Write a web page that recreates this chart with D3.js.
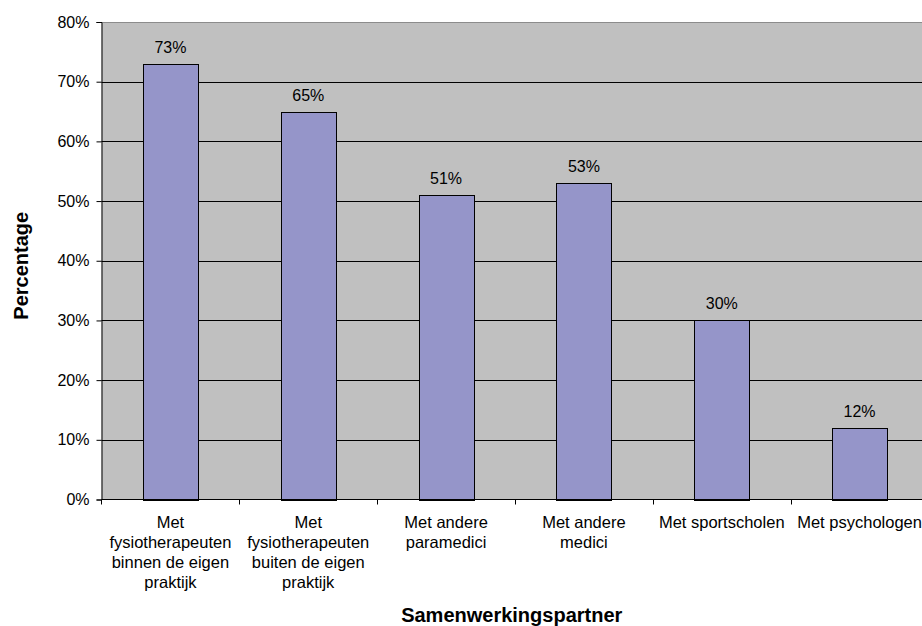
<!DOCTYPE html>
<html>
<head>
<meta charset="utf-8">
<script src="https://cdn.jsdelivr.net/npm/d3@7"></script>
<style>
  html, body { margin: 0; padding: 0; background: #fff; }
  svg { display: block; font-family: "Liberation Sans", Arial, sans-serif; }
</style>
</head>
<body>
<svg id="chart" width="922" height="626"></svg>
<script>
// Samenwerkingspartners: share of respondents per partner type
const categories = [
  "Met fysiotherapeuten binnen de eigen praktijk",
  "Met fysiotherapeuten buiten de eigen praktijk",
  "Met andere paramedici",
  "Met andere medici",
  "Met sportscholen",
  "Met psychologen"
];
// Wrapped axis labels, one array of lines per category
const categoryLines = [
  ["Met", "fysiotherapeuten", "binnen de eigen", "praktijk"],
  ["Met", "fysiotherapeuten", "buiten de eigen", "praktijk"],
  ["Met andere", "paramedici"],
  ["Met andere", "medici"],
  ["Met sportscholen"],
  ["Met psychologen"]
];
const values = [73, 65, 51, 53, 30, 12];
const yTicks = [0, 10, 20, 30, 40, 50, 60, 70, 80];
const yTitle = "Percentage";
const xTitle = "Samenwerkingspartner";

const svg = d3.select("#chart");
const plot = { left: 101.5, right: 928.5, top: 22, bottom: 499.5 };
const fontSize = 16;
const catFontSize = 16.5;

const x = d3.scaleBand()
  .domain(categories)
  .range([plot.left, plot.right])
  .paddingInner(0.6)
  .paddingOuter(0.3);
const step = x.step();

const y = d3.scaleLinear()
  .domain([0, 80])
  .range([plot.bottom, plot.top]);

// plot background
svg.append("rect")
  .attr("x", plot.left).attr("y", plot.top)
  .attr("width", plot.right - plot.left)
  .attr("height", plot.bottom - plot.top)
  .attr("fill", "#c0c0c0");

// top border of the plot area
svg.append("line")
  .attr("x1", plot.left).attr("x2", plot.right)
  .attr("y1", plot.top + 0.5).attr("y2", plot.top + 0.5)
  .attr("stroke", "#8c8c8c").attr("stroke-width", 1);

// horizontal gridlines
svg.append("g")
  .selectAll("line")
  .data(yTicks.filter(t => t > 0 && t < 80))
  .join("line")
  .attr("x1", plot.left).attr("x2", plot.right)
  .attr("y1", d => Math.round(y(d)) + 0.5)
  .attr("y2", d => Math.round(y(d)) + 0.5)
  .attr("stroke", "#000").attr("stroke-width", 1);

// bars
svg.append("g")
  .selectAll("rect")
  .data(values)
  .join("rect")
  .attr("x", (d, i) => Math.round(x(categories[i])) + 0.5)
  .attr("y", d => Math.round(y(d)) + 0.5)
  .attr("width", Math.round(x.bandwidth()))
  .attr("height", d => Math.round(y(0)) - Math.round(y(d)))
  .attr("fill", "#9595c9")
  .attr("stroke", "#000")
  .attr("stroke-width", 1);

// value labels
svg.append("g")
  .selectAll("text")
  .data(values)
  .join("text")
  .attr("x", (d, i) => x(categories[i]) + x.bandwidth() / 2)
  .attr("y", d => y(d) - 11)
  .attr("text-anchor", "middle")
  .attr("font-size", fontSize)
  .attr("fill", "#000")
  .text(d => d + "%");

// y axis
const yAxis = d3.axisLeft(y)
  .tickValues(yTicks)
  .tickSize(5)
  .tickPadding(7)
  .tickFormat(d => d + "%");
const gy = svg.append("g")
  .attr("transform", `translate(${plot.left},0)`)
  .call(yAxis);
gy.select(".domain").attr("stroke", "#000");
gy.selectAll(".tick line").attr("stroke", "#000");
gy.selectAll(".tick text")
  .attr("font-size", fontSize)
  .attr("font-family", "Liberation Sans, Arial, sans-serif")
  .attr("fill", "#000");

// x axis line with ticks at category boundaries
const gx = svg.append("g");
gx.append("line")
  .attr("x1", plot.left).attr("x2", plot.right)
  .attr("y1", plot.bottom).attr("y2", plot.bottom)
  .attr("stroke", "#000").attr("stroke-width", 1);
const boundaries = categories.map(c => x(c) - step * x.paddingOuter()).concat([plot.right]);
gx.selectAll("line.tick")
  .data(boundaries)
  .join("line")
  .attr("class", "tick")
  .attr("x1", d => Math.round(d) + 0.5).attr("x2", d => Math.round(d) + 0.5)
  .attr("y1", plot.bottom).attr("y2", plot.bottom + 5)
  .attr("stroke", "#000").attr("stroke-width", 1);

// category labels
const labels = gx.selectAll("text.cat")
  .data(categories)
  .join("text")
  .attr("class", "cat")
  .attr("text-anchor", "middle")
  .attr("font-size", catFontSize)
  .attr("fill", "#000")
  .attr("x", d => x(d) + x.bandwidth() / 2)
  .attr("y", 528);
labels.each(function(d, i) {
  const t = d3.select(this);
  categoryLines[i].forEach((line, j) => {
    t.append("tspan")
      .attr("x", x(d) + x.bandwidth() / 2)
      .attr("y", 528 + j * 20)
      .text(line);
  });
});

// axis titles
svg.append("text")
  .attr("x", (plot.left + 922) / 2)
  .attr("y", 622)
  .attr("text-anchor", "middle")
  .attr("font-size", 20)
  .attr("font-weight", "bold")
  .attr("fill", "#000")
  .text(xTitle);

svg.append("text")
  .attr("transform", `translate(28,${(plot.top + plot.bottom) / 2 + 5}) rotate(-90)`)
  .attr("text-anchor", "middle")
  .attr("font-size", 20)
  .attr("font-weight", "bold")
  .attr("fill", "#000")
  .text(yTitle);
</script>
</body>
</html>
